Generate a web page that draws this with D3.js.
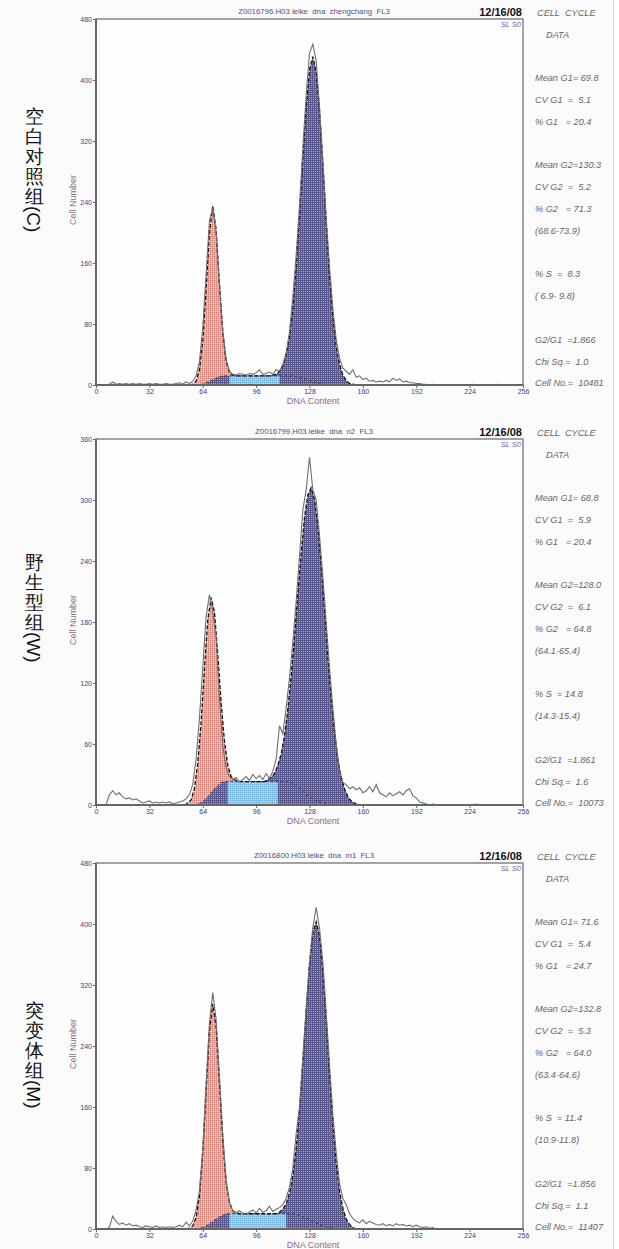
<!DOCTYPE html>
<html>
<head>
<meta charset="utf-8">
<script src="https://cdn.jsdelivr.net/npm/d3@7"></script>
<style>
  body { margin: 0; background: #fff; }
  text { font-family: "Liberation Sans", Arial, sans-serif; }
</style>
</head>
<body>
<svg id="chart" width="619" height="1249"></svg>
<script>

//###################### DATA ######################

// histogram bins (DNA content channel), every 2nd channel
const channels = d3.range(0, 257, 2)
const xTicks = [0, 32, 64, 96, 128, 160, 192, 224, 256]
const yTicksC = [0, 80, 160, 240, 320, 400, 480]
const yTicksW = [0, 60, 120, 180, 240, 300, 360]
const yTicksM = [0, 80, 160, 240, 320, 400, 480]

const groupNames = ["空白对照组", "野生型组", "突变体组"]
const groupCodes = ["(C)", "(W)", "(M)"]
const fileTitles = [
  "Z0016796.H03 leike  dna  zhengchang  FL3",
  "Z0016799.H03 leike  dna  n2  FL3",
  "Z0016800.H03 leike  dna  m1  FL3"
]
const runDate = "12/16/08"

// raw histograms (cell counts per channel)
const rawC = [
  0, 0, 0, 0, 1, 4, 1, 2, 1, 2,
  1, 2, 1, 2, 1, 1, 2, 1, 2, 1,
  1, 2, 1, 1, 2, 3, 1, 4, 2, 5,
  12, 30, 75, 145, 215, 233, 200, 130, 72, 34,
  18, 14, 13, 15, 14, 13, 15, 14, 16, 20,
  14, 15, 17, 14, 20, 18, 27, 42, 70, 115,
  170, 235, 310, 380, 435, 447, 425, 365, 295, 220,
  155, 100, 60, 35, 22, 18, 14, 20, 10, 12,
  7, 9, 5, 6, 4, 5, 4, 6, 4, 9,
  6, 8, 4, 5, 3, 3, 2, 2, 1, 1,
  0, 1, 0, 0, 0, 0, 0, 0, 0, 0,
  0, 0, 0, 1, 0, 0, 0, 0, 0, 0,
  1, 0, 0, 0, 0, 0, 0, 0, 0
]
const rawW = [
  0, 0, 0, 0, 10, 14, 10, 12, 8, 6,
  7, 5, 6, 4, 2, 3, 4, 2, 3, 2,
  3, 2, 3, 1, 2, 3, 4, 6, 10, 20,
  45, 85, 135, 185, 207, 190, 165, 105, 58, 36,
  28, 25, 27, 23, 25, 28, 24, 30, 26, 29,
  25, 31, 26, 33, 45, 78, 70, 95, 125, 160,
  200, 245, 290, 310, 342, 310, 300, 265, 225, 180,
  135, 95, 60, 35, 22, 20, 16, 18, 15, 17,
  12, 14, 18, 13, 20, 12, 10, 8, 12, 9,
  11, 13, 10, 14, 16, 9, 7, 3, 2, 1,
  0, 1, 0, 0, 0, 0, 0, 0, 0, 0,
  0, 0, 0, 0, 1, 0, 0, 0, 0, 0,
  0, 0, 0, 0, 0, 0, 0, 0, 0
]
const rawM = [
  0, 0, 0, 0, 2, 17, 10, 6, 8, 5,
  7, 4, 5, 3, 2, 4, 3, 2, 4, 2,
  3, 2, 3, 2, 3, 5, 3, 9, 4, 10,
  25, 50, 105, 190, 270, 310, 275, 200, 125, 65,
  35, 24, 21, 24, 21, 19, 22, 25, 21, 27,
  22, 24, 30, 23, 26, 28, 32, 40, 55, 80,
  125, 160, 225, 290, 350, 395, 422, 395, 350, 285,
  215, 150, 100, 60, 40, 32, 20, 14, 10, 8,
  12, 7, 10, 8, 6, 5, 7, 4, 6, 4,
  7, 5, 6, 4, 5, 3, 5, 3, 2, 3,
  1, 2, 0, 0, 0, 0, 0, 0, 0, 0,
  0, 0, 0, 0, 0, 0, 0, 0, 0, 0,
  0, 0, 0, 0, 0, 0, 0, 0, 0
]

// fitted components, every 2nd channel from the given start channel
const g1StartC = 56
const g1C = [0, 1, 5, 19, 57, 123, 195, 228, 195, 123, 57, 19, 5, 1, 0]
const sStartC = 60
const sC = [
  0, 1, 1, 3, 5, 7, 9, 11,
  12, 12, 12, 12, 12, 12, 12, 12, 12, 12, 12,
  12, 12, 12, 12, 12, 12, 12, 12, 12, 12,
  11.5, 11, 10, 9, 7.5, 6, 4.5, 3, 2, 1, 0.5, 0
]
const g2StartC = 106
const g2C = [1, 2, 6, 13, 27, 51, 90, 144, 213, 289, 358, 408, 426, 408, 358, 289, 213, 144, 90, 51, 27, 13, 6, 2, 1, 0]

const g1StartW = 53
const g1W = [0, 2, 5, 16, 40, 79, 129, 174, 192, 174, 129, 79, 40, 16, 5, 2, 0]
const sStartW = 59
const sW = [
  0, 1, 2, 5, 8, 12, 16, 19, 22,
  23, 23, 23, 23, 23, 23, 23, 23, 23, 23,
  23, 23, 23, 23, 23, 23, 23, 23, 23, 23,
  22, 21, 18, 15, 12, 9, 7, 5, 4, 3, 2, 1, 0
]
const g2StartW = 101
const g2W = [0, 2, 4, 8, 16, 27, 45, 71, 105, 145, 190, 233, 271, 296, 305, 296, 271, 233, 190, 145, 105, 71, 45, 27, 16, 8, 4, 2, 0]

const g1StartM = 54
const g1M = [0, 1, 4, 15, 42, 98, 177, 253, 285, 253, 177, 98, 42, 15, 4, 1, 0]
const sStartM = 60
const sM = [
  0, 1, 2, 4, 7, 10, 13, 16, 18,
  20, 20, 20, 20, 20, 20, 20, 20, 20, 20,
  20, 20, 20, 20, 20, 20, 20, 20, 20, 20, 20,
  19, 18, 16, 14, 12, 10, 8, 6, 4, 3, 2, 1, 0
]
const g2StartM = 108
const g2M = [0, 2, 6, 13, 27, 50, 87, 138, 202, 271, 334, 379, 395, 379, 334, 271, 202, 138, 87, 50, 27, 13, 6, 2, 0]

// cell cycle report
const statsC = ["Mean G1= 69.8", "CV G1  =  5.1", "% G1   = 20.4", "Mean G2=130.3", "CV G2  =  5.2", "% G2   = 71.3", "(68.6-73.9)", "% S  =  8.3", "( 6.9- 9.8)", "G2/G1  =1.866", "Chi Sq.=  1.0", "Cell No.=  10481"]
const statsW = ["Mean G1= 68.8", "CV G1  =  5.9", "% G1   = 20.4", "Mean G2=128.0", "CV G2  =  6.1", "% G2   = 64.8", "(64.1-65.4)", "% S  = 14.8", "(14.3-15.4)", "G2/G1  =1.861", "Chi Sq.=  1.6", "Cell No.=  10073"]
const statsM = ["Mean G1= 71.6", "CV G1  =  5.4", "% G1   = 24.7", "Mean G2=132.8", "CV G2  =  5.3", "% G2   = 64.0", "(63.4-64.6)", "% S  = 11.4", "(10.9-11.8)", "G2/G1  =1.856", "Chi Sq.=  1.1", "Cell No.=  11407"]
const statRows = [3, 4, 5, 7, 8, 9, 10, 12, 13, 15, 16, 17]

let panels = [
  {raw: rawC, g1: g1C, g1Start: g1StartC, s: sC, sStart: sStartC, g2: g2C, g2Start: g2StartC, yMax: 480, yTicks: yTicksC, stats: statsC},
  {raw: rawW, g1: g1W, g1Start: g1StartW, s: sW, sStart: sStartW, g2: g2W, g2Start: g2StartW, yMax: 360, yTicks: yTicksW, stats: statsW},
  {raw: rawM, g1: g1M, g1Start: g1StartM, s: sM, sStart: sStartM, g2: g2M, g2Start: g2StartM, yMax: 480, yTicks: yTicksM, stats: statsM}
]

//###################### LAYOUT ######################

const panelTops = [19, 439, 863]
const labelOffsets = [97, 123, 147]
const plotLeft = 96, plotRight = 523, plotH = 366

let svg = d3.select("#chart")

svg.append("rect").attr("width", 613).attr("height", 1249).attr("fill", "#fbfbfb")
svg.append("line")
   .attr("x1", 613.5).attr("x2", 613.5).attr("y1", 0).attr("y2", 1249)
   .attr("stroke", "#d4d4d4")

let defs = svg.append("defs")

// fine fill textures, kept low in contrast so they read as a tint
function makePattern(id, base, dark, light) {
  let p = defs.append("pattern")
              .attr("id", id)
              .attr("width", 2).attr("height", 2)
              .attr("patternUnits", "userSpaceOnUse")
  p.append("rect").attr("width", 2).attr("height", 2).attr("fill", base)
  if (dark) p.append("rect").attr("x", 0).attr("y", 0).attr("width", 1).attr("height", 1).attr("fill", dark)
  if (light) p.append("rect").attr("x", 1).attr("y", 1).attr("width", 1).attr("height", 1).attr("fill", light)
}
makePattern("patRed", "#e7a299", "#d9847b", "#f8d2cc")
makePattern("patNavy", "#58588e", null, "#a4a4c8")
makePattern("patBlue", "#89c7ea", "#78b8e0", "#b4dcf3")

function comp(arr, start, ch) {
  let i = (ch - start) / 2
  return (Number.isInteger(i) && i >= 0 && i < arr.length) ? arr[i] : 0
}

//###################### PANELS ######################

panels.forEach(function (p, k) {
  const top = panelTops[k]
  let g = svg.append("g")

  let x = d3.scaleLinear().domain([0, 256]).range([plotLeft, plotRight])
  let y = d3.scaleLinear().domain([0, p.yMax]).range([top + plotH, top])

  g.append("rect")
   .attr("x", plotLeft).attr("y", top)
   .attr("width", plotRight - plotLeft).attr("height", plotH)
   .attr("fill", "#fefefe")

  g.append("clipPath").attr("id", "clip" + k)
   .append("rect")
   .attr("x", plotLeft).attr("y", top)
   .attr("width", plotRight - plotLeft).attr("height", plotH)

  // component grid
  let lo = Math.min(p.g1Start, p.sStart, p.g2Start)
  let hi = Math.max(p.g1Start + 2 * (p.g1.length - 1), p.sStart + 2 * (p.s.length - 1), p.g2Start + 2 * (p.g2.length - 1))
  let rows = d3.range(lo, hi + 1, 2).map(ch => ({
    ch: ch,
    g1: comp(p.g1, p.g1Start, ch),
    s: comp(p.s, p.sStart, ch),
    g2: comp(p.g2, p.g2Start, ch)
  }))
  rows.forEach(d => d.total = d.g1 + d.s + d.g2)

  let plot = g.append("g").attr("clip-path", "url(#clip" + k + ")")

  plot.append("path").datum(rows)
      .attr("fill", "url(#patNavy)")
      .attr("d", d3.area().x(d => x(d.ch)).y0(y(0)).y1(d => y(d.s)))

  plot.append("path").datum(rows)
      .attr("fill", "url(#patBlue)")
      .attr("d", d3.area()
                   .defined(d => d.s > 0 && d.s > d.g1 + d.g2)
                   .x(d => x(d.ch)).y0(y(0)).y1(d => y(d.s)))

  plot.append("path").datum(rows)
      .attr("fill", "url(#patRed)")
      .attr("d", d3.area().x(d => x(d.ch)).y0(d => y(d.s)).y1(d => y(d.s + d.g1)))

  plot.append("path").datum(rows)
      .attr("fill", "url(#patNavy)")
      .attr("d", d3.area().x(d => x(d.ch)).y0(d => y(d.s)).y1(d => y(d.s + d.g2)))

  plot.append("path").datum(rows)
      .attr("fill", "none")
      .attr("stroke", "#2a2a3a").attr("stroke-width", 0.9)
      .attr("stroke-dasharray", "3,2")
      .attr("d", d3.line()
                   .defined((d, i) => d.s > 0 || (rows[i - 1] && rows[i - 1].s > 0) || (rows[i + 1] && rows[i + 1].s > 0))
                   .x(d => x(d.ch)).y(d => y(d.s)))

  plot.append("path").datum(rows)
      .attr("fill", "none")
      .attr("stroke", "#111").attr("stroke-width", 1.3)
      .attr("stroke-dasharray", "4,2")
      .attr("d", d3.line()
                   .defined((d, i) => d.total > 0 || (rows[i - 1] && rows[i - 1].total > 0) || (rows[i + 1] && rows[i + 1].total > 0))
                   .x(d => x(d.ch)).y(d => y(d.total)))

  plot.append("path").datum(p.raw)
      .attr("fill", "none")
      .attr("stroke", "#6e6e6e").attr("stroke-width", 1.1)
      .attr("d", d3.line().x((d, i) => x(channels[i])).y(d => y(d)))

  // frame
  g.append("rect")
   .attr("x", plotLeft).attr("y", top)
   .attr("width", plotRight - plotLeft).attr("height", plotH)
   .attr("fill", "none").attr("stroke", "#858585").attr("stroke-width", 1.5)
  g.append("path")
   .attr("d", `M${plotLeft},${top}V${top + plotH}H${plotRight}`)
   .attr("fill", "none").attr("stroke", "#666").attr("stroke-width", 2)

  // axes
  let xAxis = g.append("g")
               .attr("transform", `translate(0,${top + plotH})`)
               .call(d3.axisBottom(x).tickValues(xTicks).tickSize(3).tickPadding(1))
  let yAxis = g.append("g")
               .attr("transform", `translate(${plotLeft},0)`)
               .call(d3.axisLeft(y).tickValues(p.yTicks).tickSize(3).tickPadding(1))
  ;[xAxis, yAxis].forEach(function (a) {
    a.select(".domain").remove()
    a.selectAll("line").attr("stroke", "#666")
    a.selectAll("text")
     .attr("fill", "#3b3b8f")
     .attr("font-size", 7)
     .attr("font-family", "Liberation Sans, Arial, sans-serif")
  })

  g.append("text")
   .attr("transform", `translate(73,${top + 181}) rotate(-90)`)
   .attr("text-anchor", "middle").attr("dy", "0.35em")
   .attr("font-size", 9).attr("fill", "#8c6d8c")
   .text("Cell Number")
  g.append("text")
   .attr("x", 313).attr("y", top + 382).attr("dy", "0.35em")
   .attr("text-anchor", "middle")
   .attr("font-size", 9).attr("fill", "#8c6d8c")
   .text("DNA Content")

  // header
  g.append("text")
   .attr("x", 314).attr("y", top - 8).attr("dy", "0.35em")
   .attr("text-anchor", "middle").attr("xml:space", "preserve")
   .attr("font-size", 7.8).attr("fill", "#4e4e8c")
   .text(fileTitles[k])
  g.append("text")
   .attr("x", 522).attr("y", top - 7).attr("dy", "0.35em")
   .attr("text-anchor", "end")
   .attr("font-size", 11).attr("font-weight", "bold").attr("fill", "#111")
   .text(runDate)
  g.append("text")
   .attr("x", 521).attr("y", top + 5).attr("dy", "0.35em")
   .attr("text-anchor", "end")
   .attr("font-size", 7.5).attr("font-style", "italic").attr("fill", "#6262aa")
   .text("SL S0")

  // report column
  let rep = g.append("g")
             .attr("font-family", "DejaVu Sans, Verdana, sans-serif")
             .attr("font-style", "italic")
             .attr("font-size", 9.2)
             .attr("fill", "#666")
  const rowY = r => top - 6.5 + r * 21.8
  rep.append("text").attr("xml:space", "preserve").attr("x", 537).attr("y", rowY(0)).attr("dy", "0.35em").text("CELL  CYCLE")
  rep.append("text").attr("xml:space", "preserve").attr("x", 546).attr("y", rowY(1)).attr("dy", "0.35em").text("DATA")
  p.stats.forEach(function (s, i) {
    rep.append("text").attr("xml:space", "preserve")
       .attr("x", 535).attr("y", rowY(statRows[i])).attr("dy", "0.35em").text(s)
  })

  // group label, written vertically
  let ly = top + labelOffsets[k]
  groupNames[k].split("").forEach(function (c, i) {
    g.append("text")
     .attr("x", 34).attr("y", ly + i * 20).attr("dy", "0.35em")
     .attr("text-anchor", "middle")
     .attr("font-family", "Noto Sans CJK SC")
     .attr("font-size", 19).attr("fill", "#111")
     .text(c)
  })
  g.append("text")
   .attr("transform", `translate(34,${ly + groupNames[k].length * 20 - 10}) rotate(90)`)
   .attr("dy", "0.35em")
   .attr("font-family", "Noto Sans CJK SC")
   .attr("font-size", 19).attr("fill", "#111")
   .text(groupCodes[k])
})

</script>
</body>
</html>
